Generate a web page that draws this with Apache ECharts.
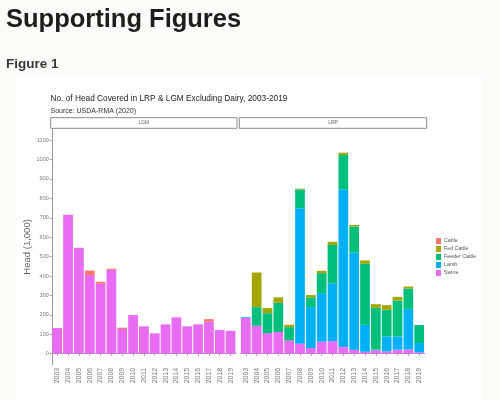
<!DOCTYPE html>
<html>
<head>
<meta charset="utf-8">
<script src="https://cdn.jsdelivr.net/npm/echarts@6/dist/echarts.min.js"></script>
<style>
html,body{margin:0;padding:0;background:#fcfbf7;}
#c{width:500px;height:400px;}
</style>
</head>
<body>
<div id="c"></div>
<script>
const years = ['2003','2004','2005','2006','2007','2008','2009','2010','2011','2012','2013','2014','2015','2016','2017','2018','2019'];
const yTicks = [0,100,200,300,400,500,600,700,800,900,1000,1100];
// LGM panel
const lgmSwine  = [132, 715, 545, 405, 360, 432, 127, 199, 141, 105, 151, 187, 141, 151, 165, 122, 118];
const lgmCattle = [0, 0, 0, 23, 10, 6, 7, 0, 0, 0, 0, 0, 0, 0, 13, 0, 0];
// LRP panel
const lrpSwine  = [184, 144, 106, 112, 69, 51, 29, 62, 65, 34, 21, 10, 18, 12, 21, 22, 7];
const lrpLamb   = [4, 0, 0, 0, 0, 698, 211, 250, 298, 813, 500, 139, 3, 77, 68, 209, 48];
const lrpFeeder = [0, 96, 103, 150, 68, 97, 50, 103, 197, 176, 134, 314, 216, 137, 185, 105, 93];
const lrpFed    = [0, 178, 26, 28, 12, 4, 12, 12, 16, 12, 8, 17, 18, 24, 19, 10, 0];

const colors = {Cattle:'#F8766D','Fed Cattle':'#A3A500','Feeder Cattle':'#00BF7D',Lamb:'#00B0F6',Swine:'#E76BF3'};
const legendOrder = ['Cattle','Fed Cattle','Feeder Cattle','Lamb','Swine'];

const chart = echarts.init(document.getElementById('c'), null, {renderer:'canvas'});
const yMin = -57, yMax = 1157;
const gTop = 129, gH = 235.8, gW = 184.2;
function xAx(gi){
  return {type:'category', gridIndex:gi, data:years,
    axisLine:{lineStyle:{color:'#9a9a9a', width:1}},
    axisTick:{show:true, length:2, lineStyle:{color:'#9a9a9a'}, alignWithLabel:true},
    axisLabel:{rotate:90, fontSize:7, color:'#7a7a7a', margin:3, fontFamily:'Liberation Sans'}};
}
function bar(name, gi, data, stack){
  return {name, type:'bar', xAxisIndex:gi, yAxisIndex:gi, stack, data,
    barCategoryGap:'10%', itemStyle:{color:colors[name]}, emphasis:{disabled:true}};
}
const option = {
  animation:false,
  backgroundColor:'transparent',
  color: legendOrder.map(n=>colors[n]),
  grid:[
    {left:51.8, top:gTop, width:gW, height:gH},
    {left:240.4, top:gTop, width:gW, height:gH}
  ],
  xAxis:[xAx(0), xAx(1)],
  yAxis:[
    {type:'value', gridIndex:0, min:yMin, max:yMax,
     name:'Head (1,000)', nameLocation:'middle', nameGap:19, nameRotate:90,
     nameTextStyle:{fontSize:9.5, color:'#666', fontFamily:'Liberation Sans'},
     splitLine:{show:false},
     axisLine:{show:true, lineStyle:{color:'#9a9a9a'}},
     axisTick:{show:true, length:2, lineStyle:{color:'#9a9a9a'}, customValues:yTicks},
     axisLabel:{fontSize:5.5, color:'#7a7a7a', margin:3, customValues:yTicks, fontFamily:'Liberation Sans',
       formatter:(v)=>String(v)}},
    {type:'value', gridIndex:1, min:yMin, max:yMax, show:false, splitLine:{show:false}}
  ],
  legend:{orient:'vertical', left:431, top:233, itemWidth:5, itemHeight:6, itemGap:2,
    icon:'rect', data:legendOrder, selectedMode:false,
    textStyle:{fontSize:5.3, color:'#555', padding:[0,0,0,-2], fontFamily:'Liberation Sans'}},
  series:[
    bar('Swine',0,lgmSwine,'lgm'),
    bar('Cattle',0,lgmCattle,'lgm'),
    bar('Swine',1,lrpSwine,'lrp'),
    bar('Lamb',1,lrpLamb,'lrp'),
    bar('Feeder Cattle',1,lrpFeeder,'lrp'),
    bar('Fed Cattle',1,lrpFed,'lrp')
  ],
  graphic:[
    {type:'rect', z:-10, silent:true, shape:{x:16, y:76, width:466, height:330}, style:{fill:'#ffffff'}},
    {type:'text', style:{x:6, y:19.5, text:'Supporting Figures', font:'bold 25.5px "Liberation Sans"', fill:'#1d1d1d', verticalAlign:'middle'}},
    {type:'text', style:{x:6, y:64.5, text:'Figure 1', font:'bold 13.5px "Liberation Sans"', fill:'#383838', verticalAlign:'middle'}},
    {type:'text', style:{x:50.5, y:99, text:'No. of Head Covered in LRP & LGM Excluding Dairy, 2003-2019', font:'8.3px "Liberation Sans"', fill:'#222', verticalAlign:'middle'}},
    {type:'text', style:{x:50.5, y:111, text:'Source: USDA-RMA (2020)', font:'7px "Liberation Sans"', fill:'#333', verticalAlign:'middle'}},
    {type:'rect', shape:{x:50.7, y:117.7, width:186.3, height:10.6}, style:{fill:'#ffffff', stroke:'#8a8a8a', lineWidth:1}},
    {type:'rect', shape:{x:239.3, y:117.7, width:187.4, height:10.6}, style:{fill:'#ffffff', stroke:'#8a8a8a', lineWidth:1}},
    {type:'text', style:{x:143.8, y:123, text:'LGM', font:'5px "Liberation Sans"', fill:'#666', align:'center', verticalAlign:'middle'}},
    {type:'text', style:{x:333, y:123, text:'LRP', font:'5px "Liberation Sans"', fill:'#666', align:'center', verticalAlign:'middle'}}
  ]
};
chart.setOption(option);
</script>
</body>
</html>
